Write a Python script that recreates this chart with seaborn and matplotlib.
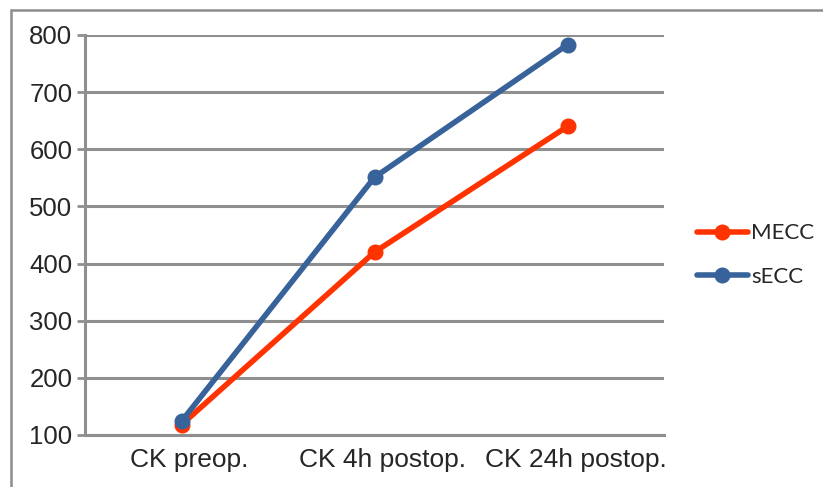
import pandas as pd
import matplotlib.pyplot as plt
import matplotlib.transforms as mtransforms
import seaborn as sns
from matplotlib.patches import Rectangle

categories = ["CK preop.", "CK 4h postop.", "CK 24h postop."]
mecc = [118, 420, 640]
secc = [124, 551, 783]
series_names = ["MECC", "sECC"]
colors = {"MECC": "#FF3300", "sECC": "#38629A"}

df = pd.DataFrame({
    "time": categories * 2,
    "CK": mecc + secc,
    "group": [series_names[0]] * 3 + [series_names[1]] * 3,
})

sns.set_style("white")
plt.rcParams["font.family"] = ["Liberation Sans", "DejaVu Sans"]

fig = plt.figure(figsize=(8.23, 4.87), dpi=100)
ax = fig.add_axes([85 / 823, 1 - 435 / 487, (664 - 85) / 823, (435 - 35) / 487])

sns.pointplot(data=df, x="time", y="CK", hue="group", order=categories,
              palette=colors, markers="o", linestyles="-", errorbar=None,
              linewidth=4.0, markersize=8.5, ax=ax)

grid_col = "#8f8f8f"
ax.set_ylim(100, 800)
ax.set_xlim(-0.5, 2.5)
ax.set_yticks(range(100, 801, 100))
ax.yaxis.grid(True, color=grid_col, linewidth=2.2)
ax.set_axisbelow(True)
for s in ["top", "right"]:
    ax.spines[s].set_visible(False)
for s in ["left", "bottom"]:
    ax.spines[s].set_color(grid_col)
    ax.spines[s].set_linewidth(2.2)

ax.set_xticks([-0.5, 0.5, 1.5, 2.5], minor=True)
ax.tick_params(axis="x", which="major", length=0, labelsize=19, pad=9)
ax.tick_params(axis="x", which="minor", length=6, width=2, color=grid_col)
ax.tick_params(axis="y", length=6, width=2, color=grid_col, labelsize=18.5, pad=3, left=True)
ax.set_xlabel("")
ax.set_ylabel("")

# category labels sit a little right of the points
shift = mtransforms.ScaledTranslation(8 / 100, 0, fig.dpi_scale_trans)
for lbl in ax.get_xticklabels():
    lbl.set_transform(lbl.get_transform() + shift)

handles, labels = ax.get_legend_handles_labels()
ax.legend(handles, labels, loc="center left", bbox_to_anchor=(1.022, 0.45),
          frameon=False, handlelength=2.3, handletextpad=0.15,
          labelspacing=1.05, prop={"family": "Lato", "size": 16})

fig.add_artist(Rectangle((11 / 823, -0.1), 1.2, 1 - 10 / 487 + 0.1,
                         transform=fig.transFigure, fill=False,
                         edgecolor="#8c8c8c", linewidth=1.8))

fig.savefig("out.png", dpi=100)
